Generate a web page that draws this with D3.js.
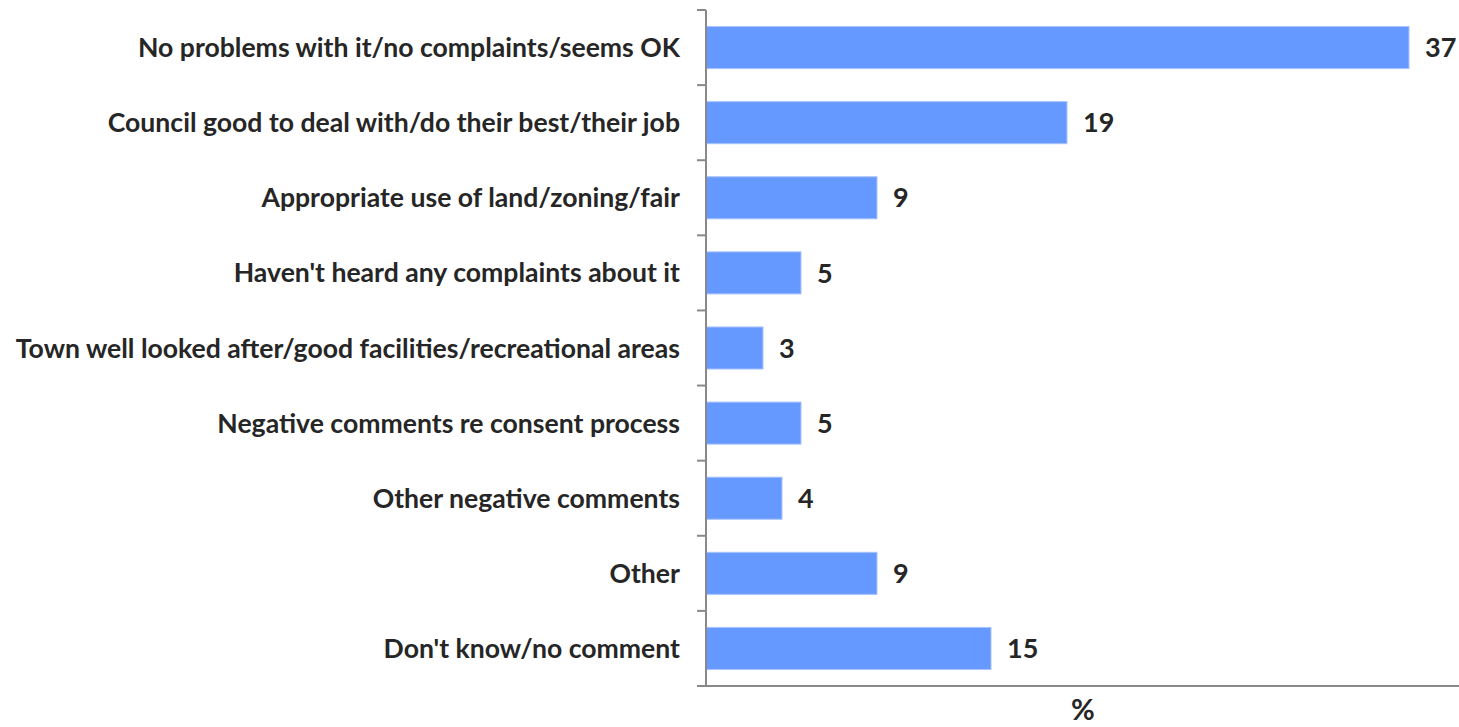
<!DOCTYPE html>
<html>
<head>
<meta charset="utf-8">
<script src="https://cdn.jsdelivr.net/npm/d3@7"></script>
<style>
  html, body { margin: 0; padding: 0; background: #fff; }
  svg { display: block; }
  text { font-family: Lato, "Open Sans", sans-serif; font-weight: bold; fill: #262626; }
</style>
</head>
<body>
<svg id="chart" width="1459" height="727"></svg>
<script>
const categories = [
  "No problems with it/no complaints/seems OK",
  "Council good to deal with/do their best/their job",
  "Appropriate use of land/zoning/fair",
  "Haven't heard any complaints about it",
  "Town well looked after/good facilities/recreational areas",
  "Negative comments re consent process",
  "Other negative comments",
  "Other",
  "Don't know/no comment"
];
const values = [37, 19, 9, 5, 3, 5, 4, 9, 15];
const axisTitle = "%";

const svg = d3.select("#chart");
const plotLeft = 706, plotTop = 10, plotBottom = 686, plotRight = 1459;

const x = d3.scaleLinear().domain([0, 37]).range([plotLeft, 1409]);
const y = d3.scaleBand().domain(categories).range([plotTop, plotBottom]).paddingInner(0.44).paddingOuter(0.22);

// bars
svg.append("g").selectAll("rect").data(values).join("rect")
  .attr("x", x(0))
  .attr("y", (d, i) => y(categories[i]))
  .attr("width", d => x(d) - x(0))
  .attr("height", y.bandwidth())
  .attr("fill", "#6699ff")
  .attr("stroke", "#a8c4ff")
  .attr("stroke-width", 1);

// value labels
svg.append("g").selectAll("text").data(values).join("text")
  .attr("x", d => x(d) + 16)
  .attr("y", (d, i) => y(categories[i]) + y.bandwidth() / 2)
  .attr("dy", "0.36em")
  .attr("font-size", 27)
  .text(d => d);

// category axis with ticks on band boundaries
const axisColor = "#898989";
const bounds = d3.range(categories.length + 1).map(i => plotTop + i * (plotBottom - plotTop) / categories.length);
svg.append("line").attr("x1", plotLeft).attr("x2", plotLeft).attr("y1", plotTop).attr("y2", plotBottom)
  .attr("stroke", axisColor).attr("stroke-width", 2);
svg.append("g").selectAll("line").data(bounds).join("line")
  .attr("x1", plotLeft - 9).attr("x2", plotLeft).attr("y1", d => d).attr("y2", d => d)
  .attr("stroke", axisColor).attr("stroke-width", 2);
svg.append("line").attr("x1", plotLeft - 9).attr("x2", plotRight).attr("y1", plotBottom).attr("y2", plotBottom)
  .attr("stroke", axisColor).attr("stroke-width", 2);

// category labels
svg.append("g").selectAll("text").data(categories).join("text")
  .attr("x", 680)
  .attr("y", d => y(d) + y.bandwidth() / 2)
  .attr("dy", "0.36em")
  .attr("text-anchor", "end")
  .attr("font-size", 26.6)
  .text(d => d);

// axis title
svg.append("text").attr("x", 1083).attr("y", 720).attr("text-anchor", "middle")
  .attr("font-size", 29).text(axisTitle);
</script>
</body>
</html>
